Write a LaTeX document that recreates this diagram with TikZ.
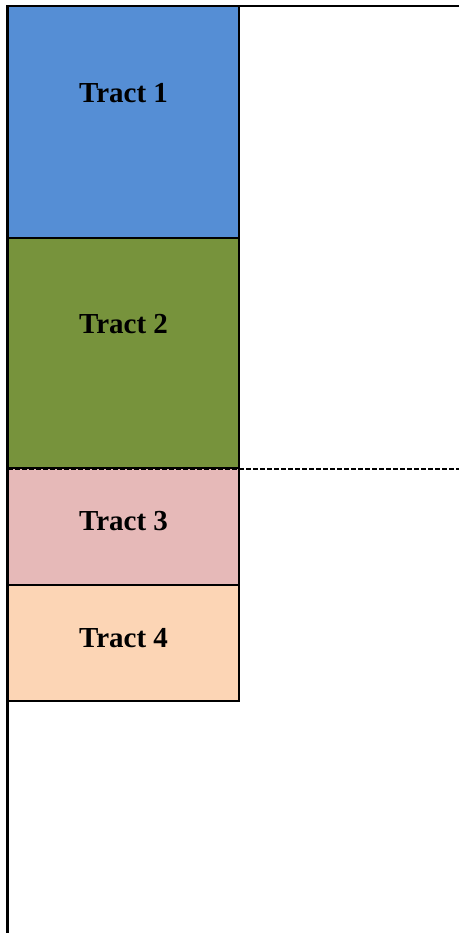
\documentclass[tikz,border=0pt]{standalone}
\usepackage{fontspec}
\setmainfont{Liberation Serif}
\definecolor{tblue}{HTML}{558ED5}
\definecolor{tgreen}{HTML}{77933C}
\definecolor{tpink}{HTML}{E6B9B8}
\definecolor{tpeach}{HTML}{FCD5B5}
\begin{document}
\begin{tikzpicture}[x=1pt,y=-1pt,
  tract/.style={draw=black,line width=2pt,minimum width=231pt,inner sep=0pt,outer sep=0pt,anchor=north west},
  tlabel/.style={font=\fontsize{29}{34}\selectfont\bfseries,inner sep=0pt},
  frame/.style={draw=black,line width=2.4pt}]
\useasboundingbox (0,0) rectangle (459,933);
\node[tract,fill=tblue,minimum height=232pt] (t1) at (8,6) {};
\node[tract,fill=tgreen,minimum height=230pt] (t2) at (8,238) {};
\node[tract,fill=tpink,minimum height=117pt] (t3) at (8,468) {};
\node[tract,fill=tpeach,minimum height=116pt] (t4) at (8,585) {};
\node[tlabel] (l1) at (123.5,93) {Tract 1};
\node[tlabel] (l2) at (123.5,324) {Tract 2};
\node[tlabel] (l3) at (123.5,521) {Tract 3};
\node[tlabel] (l4) at (123.5,638) {Tract 4};
\coordinate (tl) at (7.5,6);
\coordinate (tr) at (459,6);
\coordinate (bl) at (7.5,933);
\coordinate (dl) at (8,469);
\coordinate (dr) at (459,469);
\draw[frame] (tr) -- (tl) -- (bl);
\draw[line width=2.2pt,dash pattern=on 5pt off 2pt] (dl) -- (dr);
\end{tikzpicture}
\end{document}
